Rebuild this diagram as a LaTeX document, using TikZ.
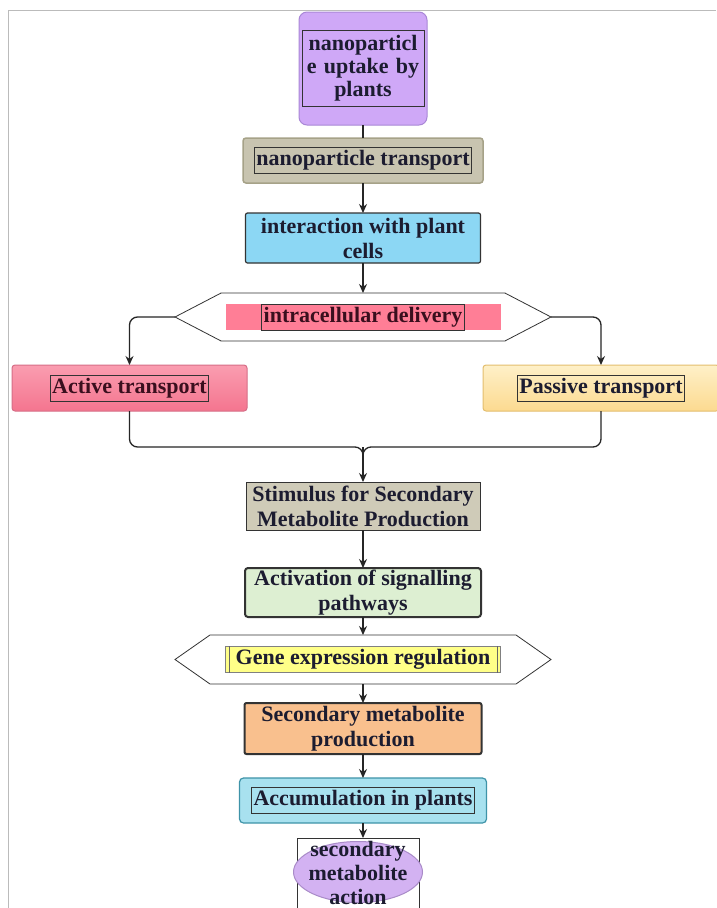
\documentclass[tikz,border=0pt]{standalone}
\usepackage{fontspec}
\setmainfont{Liberation Serif}
\usetikzlibrary{arrows.meta, positioning, shapes.symbols, shapes.geometric, calc}
\definecolor{txtdark}{HTML}{1C1C30}
\definecolor{txtred}{HTML}{3A0F1E}
\definecolor{framegray}{HTML}{BBBBBB}
\definecolor{uptakefill}{HTML}{CFA8F7}
\definecolor{uptakeline}{HTML}{A987D6}
\definecolor{khaki}{HTML}{C8C4B0}
\definecolor{khakiline}{HTML}{A6A288}
\definecolor{skyfill}{HTML}{8CD7F4}
\definecolor{pinkbar}{HTML}{FF7E96}
\definecolor{activetop}{HTML}{FA9DB0}
\definecolor{activebot}{HTML}{F4758F}
\definecolor{activeline}{HTML}{D66E87}
\definecolor{passtop}{HTML}{FEF0C8}
\definecolor{passbot}{HTML}{FCDA90}
\definecolor{passline}{HTML}{E3BE6E}
\definecolor{stimfill}{HTML}{CFCBB8}
\definecolor{greenfill}{HTML}{DDEFD2}
\definecolor{yellowbar}{HTML}{FFFF88}
\definecolor{orangefill}{HTML}{F9C08E}
\definecolor{aquafill}{HTML}{A8E1EF}
\definecolor{aqualine}{HTML}{3E93A8}
\definecolor{ellfill}{HTML}{D3B2F2}
\definecolor{ellline}{HTML}{A98BC8}
\tikzset{
  every node/.style={font=\fontsize{22}{25}\selectfont\bfseries, text=txtdark},
  flowbox/.style={
    rectangle, draw=black!80, line width=1pt, align=center, outer sep=0pt,
    inner sep=0pt, minimum width=236pt, minimum height=48pt
  },
  textframe/.style={
    rectangle, draw=black!80, line width=0.6pt, align=center,
    inner xsep=2pt, inner ysep=0pt, minimum height=26pt
  },
  hexa/.style={
    signal, signal to=west and east, draw=black!80, line width=0.8pt, outer sep=0pt,
    fill=white, minimum width=376pt, minimum height=48pt, inner sep=0pt
  },
  bar/.style={rectangle, inner sep=0pt, minimum width=275pt, minimum height=26pt},
  arr/.style={-{Stealth[length=9pt,width=8pt]}, line width=1.3pt, black!85},
  link/.style={line width=1.3pt, black!85},
}
\begin{document}
\begin{tikzpicture}[x=1pt,y=-1pt]
  \useasboundingbox[fill=white] (0,0) rectangle (716,908);
  \draw[framegray, line width=0.8pt] (8,908) -- (8,10) -- (716,10);

  % main column
  \node[flowbox, draw=uptakeline, fill=uptakefill, rounded corners=8pt,
        minimum width=128pt, minimum height=113pt] (uptake) at (363,68.5) {};
  \node[textframe, text width=118pt, minimum height=76pt, font=\fontsize{22}{23}\selectfont\bfseries]
        (uptaketxt) at (uptake) {nanoparticl\\e uptake by\\plants};
  \node[flowbox, draw=khakiline, fill=khaki, line width=1.5pt, rounded corners=3pt,
        minimum width=240pt, minimum height=45pt, below=13pt of uptake] (trans) {};
  \node[textframe] (transtxt) at (trans) {nanoparticle transport};
  \node[flowbox, fill=skyfill, line width=1.2pt, rounded corners=2pt,
        minimum width=235pt, minimum height=50pt, below=30pt of trans] (inter)
        {interaction with plant\\cells};
  \node[hexa, signal pointer angle=55, below=30pt of inter] (deliv) {};
  \node[bar, fill=pinkbar] (delivbar) at (deliv) {};
  \node[textframe, text=txtred] (delivtxt) at (deliv) {intracellular delivery};

  % two branches
  \node[flowbox, draw=activeline, top color=activetop, bottom color=activebot,
        rounded corners=3pt, minimum width=235pt, minimum height=46pt] (act) at (129.5,388) {};
  \node[textframe, text=txtred] (acttxt) at (act) {Active transport};
  \node[flowbox, draw=passline, top color=passtop, bottom color=passbot,
        rounded corners=3pt, minimum height=46pt] (pas) at (601,388) {};
  \node[textframe] (pastxt) at (pas) {Passive transport};

  \node[flowbox, fill=stimfill, minimum width=234pt, below=141pt of deliv] (stim)
        {Stimulus for Secondary\\Metabolite Production};
  \coordinate (join) at ($(stim.north)+(0,-35)$);
  \node[flowbox, fill=greenfill, line width=2pt, rounded corners=3pt,
        minimum height=49pt, below=38pt of stim] (activ) {Activation of signalling\\pathways};
  \node[hexa, signal pointer angle=70, minimum height=49pt, below=18pt of activ] (gene) {};
  \node[bar, fill=yellowbar, draw=black!50, line width=0.5pt] (genebar) at (gene) {};
  \node (genetxt) at (gene) {Gene expression regulation};
  \node[flowbox, fill=orangefill, line width=2pt, rounded corners=2pt,
        minimum width=237pt, minimum height=51pt, below=19pt of gene] (sec)
        {Secondary metabolite\\production};
  \node[flowbox, draw=aqualine, fill=aquafill, line width=1.2pt, rounded corners=4pt,
        minimum width=247pt, minimum height=45pt, below=24pt of sec] (accum) {};
  \node[textframe] (accumtxt) at (accum) {Accumulation in plants};
  \node[flowbox, draw=black!80, line width=0.8pt, minimum width=122pt, minimum height=80pt,
        below=15pt of accum, xshift=-5pt] (actbox) {};
  \node[ellipse, draw=ellline, fill=ellfill, line width=1pt, inner sep=0pt,
        minimum width=129pt, minimum height=61pt] (ell) at ($(actbox.north)+(0,34)$) {};
  \node[align=center, font=\fontsize{22}{24}\selectfont\bfseries] (elltxt)
        at ($(actbox.north)+(0,35)$) {secondary\\metabolite\\action};

  % double lines of the yellow bar
  \draw[black!60, line width=0.5pt] ($(genebar.north west)+(4,0)$) -- ($(genebar.south west)+(4,0)$);
  \draw[black!60, line width=0.5pt] ($(genebar.north east)+(-4,0)$) -- ($(genebar.south east)+(-4,0)$);

  % connectors
  \draw[link] (uptake.south) -- (trans.north);
  \draw[arr] (trans) -- (inter);
  \draw[arr] (inter) -- (deliv);
  \draw[arr, rounded corners=8pt] (deliv.west) -| (act.north);
  \draw[arr, rounded corners=8pt] (deliv.east) -| (pas.north);
  \draw[link, rounded corners=8pt] (act.south) |- (join) -- ++(0,14);
  \draw[link, rounded corners=8pt] (pas.south) |- (join) -- ++(0,14);
  \draw[arr] (join) -- (stim.north);
  \draw[arr] (stim) -- (activ);
  \draw[arr] (activ) -- (gene);
  \draw[arr] (gene) -- (sec);
  \draw[arr] (sec) -- (accum);
  \draw[arr] (accum.south) -- (accum.south |- actbox.north);
\end{tikzpicture}
\end{document}
